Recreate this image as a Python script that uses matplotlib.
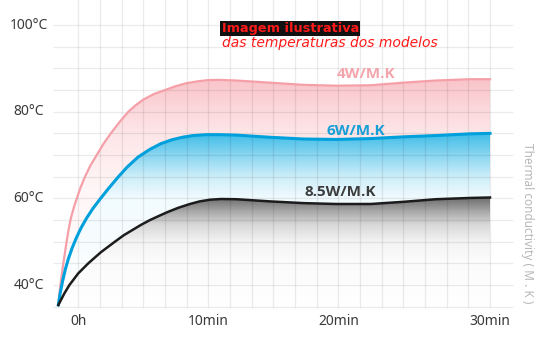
import numpy as np
import matplotlib.pyplot as plt
from matplotlib.patches import Polygon
from matplotlib.colors import to_rgb

# x is in grid steps (0h at 0, 10min at 6, 20min at 12, 30min at 19 on the original picture)
x_4w = [-0.92, -0.87, -0.80, -0.72, -0.63, -0.54, -0.44, -0.34, -0.20, -0.05, 0.12, 0.31,
        0.55, 0.85, 1.15, 1.5, 1.9, 2.31, 2.65, 3.0, 3.5, 4.0, 4.5, 5.0, 5.5, 6.0, 6.5,
        7.3, 8.85, 10.4, 11.9, 13.5, 15.0, 16.5, 18.1, 19.0]
t_4w = [35.4, 38, 41, 44, 47, 50, 53, 55.5, 58, 60.3, 62.7, 65,
        67.5, 70, 72.5, 75, 77.6, 80, 81.5, 82.8, 84.1, 85.0, 85.9, 86.6, 87.0, 87.3, 87.35,
        87.2, 86.7, 86.2, 86.0, 86.1, 86.7, 87.2, 87.5, 87.5]

x_6w = [-0.92, -0.84, -0.72, -0.60, -0.46, -0.28, -0.08, 0.14, 0.39, 0.68, 1.0, 1.35,
        1.8, 2.25, 2.75, 3.3, 3.8, 4.3, 4.8, 5.3, 5.9, 6.5,
        7.3, 8.85, 10.4, 11.9, 13.5, 15.0, 16.5, 18.1, 19.0]
t_6w = [35.4, 38, 41, 43.6, 46, 48.6, 51, 53.3, 55.5, 57.7, 59.8, 62.0,
        64.7, 67.2, 69.5, 71.3, 72.6, 73.5, 74.1, 74.5, 74.7, 74.7,
        74.6, 74.1, 73.7, 73.6, 73.8, 74.2, 74.5, 74.9, 75.0]

x_85w = [-0.92, -0.65, -0.41, 0.0, 0.46, 1.05, 1.69, 2.1, 2.5, 2.9, 3.31, 3.7, 4.1,
         4.6, 5.15, 5.6, 6.1, 6.6, 7.3, 8.85, 10.4, 11.9, 13.5, 15.0, 16.5, 18.1, 19.0]
t_85w = [35.4, 38, 40, 42.7, 45, 47.6, 50, 51.5, 52.7, 53.9, 55.0, 55.9, 56.8,
         57.8, 58.7, 59.3, 59.7, 59.85, 59.8, 59.3, 58.9, 58.7, 58.7, 59.2, 59.8, 60.1, 60.2]

xtick_pos = [0, 6, 12, 19]
xtick_labels = ['0h', '10min', '20min', '30min']
ytick_pos = [100, 80, 60, 40]
ytick_labels = ['100°C', '80°C', '60°C', '40°C']

BASE = 35


def grad_fill(ax, x, y, stops, zorder):
    # vertical gradient clipped to the area under the curve
    verts = [(x[0], BASE)] + list(zip(x, y)) + [(x[-1], BASE)]
    poly = Polygon(verts, closed=True, fc='none', ec='none', transform=ax.transData)
    ax.add_patch(poly)
    top = max(y) + 1
    tt = np.linspace(BASE, top, 300)
    st = [s[0] for s in stops]
    cols = np.array([to_rgb(s[1]) for s in stops])
    img = np.stack([np.interp(tt, st, cols[:, k]) for k in range(3)], axis=-1)[:, None, :]
    im = ax.imshow(img, extent=[x[0], x[-1], BASE, top], origin='lower',
                   aspect='auto', zorder=zorder, interpolation='bilinear')
    im.set_clip_path(poly)


fig = plt.figure(figsize=(5.6, 3.56), dpi=100)
ax = fig.add_axes([0, 0, 1, 1])
ax.set_axis_off()

grad_fill(ax, x_4w, t_4w, [(35, '#ffffff'), (62, '#fff6f7'), (75, '#fde6e8'),
                           (80, '#fcdadd'), (88, '#f9c3c8')], 1)
grad_fill(ax, x_6w, t_6w, [(35, '#ffffff'), (60, '#f2fbfe'), (65, '#cdeef9'),
                           (70, '#8ad6f1'), (75, '#40bde8')], 2)
grad_fill(ax, x_85w, t_85w, [(35, '#ffffff'), (46, '#fbfbfb'), (50, '#f3f3f3'), (54, '#d8d8d8'),
                             (57, '#a8a8a8'), (59.5, '#7a7a7a'), (61, '#6a6a6a')], 3)

# grid
ax.hlines(np.arange(35, 101, 5), -1.17, 20.06, color='black', alpha=0.08, lw=0.9, zorder=4)
ax.vlines(np.arange(0, 20), 35, 106, color='black', alpha=0.08, lw=0.9, zorder=4)

ax.plot(x_4w, t_4w, color='#f5a0a8', lw=1.6, zorder=5, solid_joinstyle='round')
ax.plot(x_6w, t_6w, color='#00a0dc', lw=2.2, zorder=6, solid_joinstyle='round')
ax.plot(x_85w, t_85w, color='#1c1c1c', lw=1.8, zorder=7, solid_joinstyle='round')

for p, lab in zip(ytick_pos, ytick_labels):
    ax.text(-2.28, p, lab, ha='center', va='center', fontsize=10, color='#3a3a3a', family='Noto Sans')
for p, lab in zip(xtick_pos, xtick_labels):
    ax.text(p, 31.5, lab, ha='center', va='center', fontsize=10, color='#3a3a3a', family='Noto Sans')

ax.text(13.28, 88.75, '4W/M.K', ha='center', va='center', fontsize=11, weight='bold',
        color='#f3a5ac', family='Open Sans', zorder=8)
ax.text(12.8, 75.6, '6W/M.K', ha='center', va='center', fontsize=11, weight='bold',
        color='#149fd7', family='Open Sans', zorder=8)
ax.text(12.08, 61.5, '8.5W/M.K', ha='center', va='center', fontsize=11, weight='bold',
        color='#3c3c3c', family='Open Sans', zorder=8)

ax.text(20.75, 54.3, 'Thermal conductivity ( M . K )', rotation=270, ha='center', va='center',
        fontsize=8.5, color='#b8b8b8', family='Noto Sans')

ax.text(6.62, 98.4, 'Imagem ilustrativa', ha='left', va='baseline', fontsize=9.3, weight='bold',
        color='#ff1a1a', family='DejaVu Sans', zorder=9,
        bbox=dict(facecolor='#111111', edgecolor='none', pad=0.9))
ax.text(6.65, 94.9, 'das temperaturas dos modelos', ha='left', va='baseline', fontsize=10,
        style='italic', color='#ff1a1a', family='DejaVu Sans', zorder=9)

ax.set_xlim(-3.613, 22.23)
ax.set_ylim(23.62, 105.78)

fig.savefig('out.png', dpi=100)
